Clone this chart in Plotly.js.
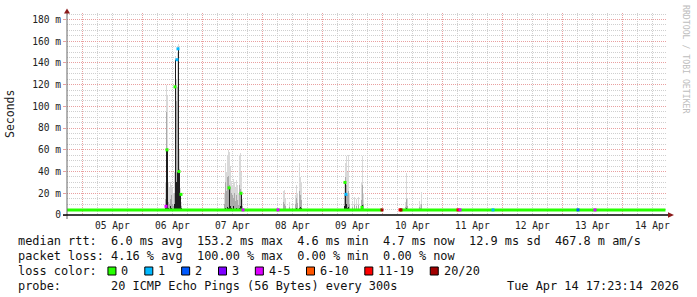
<!DOCTYPE html>
<html><head><meta charset="utf-8">
<script src="https://cdn.plot.ly/plotly-3.0.1.min.js"></script>
<style>html,body{margin:0;padding:0;background:#fff;}#chart{width:697px;height:297px;}</style>
</head><body><div id="chart"></div>
<script>
// ---------- DATA ----------
const smokeTime = [
 "2026-04-06 09:12","2026-04-06 09:36","2026-04-06 10:00","2026-04-06 10:24","2026-04-06 10:48","2026-04-06 11:12","2026-04-06 11:36","2026-04-06 12:00","2026-04-06 12:24","2026-04-06 12:48","2026-04-06 13:12","2026-04-06 13:36","2026-04-06 14:00","2026-04-06 14:24","2026-04-06 14:48","2026-04-06 15:12","2026-04-06 15:36",
 "2026-04-07 08:48","2026-04-07 09:12","2026-04-07 09:36","2026-04-07 10:00","2026-04-07 10:24","2026-04-07 10:48","2026-04-07 11:12","2026-04-07 11:36","2026-04-07 12:00","2026-04-07 12:24","2026-04-07 12:48","2026-04-07 13:12","2026-04-07 13:36","2026-04-07 14:00","2026-04-07 14:24","2026-04-07 14:48","2026-04-07 15:12","2026-04-07 15:36","2026-04-07 16:00",
 "2026-04-08 08:24","2026-04-08 08:48","2026-04-08 09:12","2026-04-08 10:48","2026-04-08 12:00","2026-04-08 13:12","2026-04-08 13:36","2026-04-08 14:00","2026-04-08 14:48","2026-04-08 15:12","2026-04-08 15:36",
 "2026-04-09 08:48","2026-04-09 09:12","2026-04-09 09:36","2026-04-09 10:00","2026-04-09 10:24","2026-04-09 10:48","2026-04-09 12:00","2026-04-09 12:48","2026-04-09 13:36","2026-04-09 14:24","2026-04-09 15:36","2026-04-09 16:00","2026-04-09 16:24",
 "2026-04-10 09:12","2026-04-10 09:36","2026-04-10 10:00","2026-04-10 14:48","2026-04-10 15:12","2026-04-10 15:36"
];
const smokeHigh = [
 30,120,110,30,25,30,28,25,20,40,146,125,150,157,60,25,12,
 20,48,40,55,60,58,45,31,28,33,30,25,32,28,20,55,57,40,15,
 22,23,15,12,10,18,28,20,48,35,30,
 30,48,54,40,55,20,12,17,15,17,30,54,20,
 12,39,15,13,10,21
];
const smokeMid = [
 15,95,62,12,10,15,18,10,8,20,144,105,118,155,42,20,8,
 10,30,22,35,36,28,26,20,18,16,20,13,18,14,9,28,24,20,8,
 12,10,8,7,6,10,16,11,22,18,14,
 18,35,28,18,22,10,7,9,8,9,14,28,10,
 7,15,8,7,6,10
];
const smokeDark = [
 6,60,60,6,5,8,6,5,5,10,143,30,40,154,40,19,6,
 5,6,5,7,6,25,8,6,5,8,5,5,6,5,5,6,8,20,5,
 5,5,5,5,5,5,6,5,6,7,6,
 8,30,10,6,7,5,5,5,5,5,6,9,5,
 5,6,5,5,5,5
];
const smokeFloor = 4.3;

const medianTime = ["2026-04-04 18:00","2026-04-06 12:00","2026-04-08 12:00","2026-04-10 00:00","2026-04-10 03:00","2026-04-10 07:12","2026-04-12 12:00","2026-04-14 17:23"];
const medianRtt  = [4.7,4.7,4.7,4.7,null,4.7,4.7,4.7];

const lossTime = ["2026-04-06 09:36","2026-04-06 10:00","2026-04-06 13:12","2026-04-06 14:00","2026-04-06 14:24","2026-04-06 14:48","2026-04-06 15:36",
 "2026-04-07 10:48","2026-04-07 15:36","2026-04-07 16:24","2026-04-08 06:24","2026-04-09 09:12","2026-04-09 09:36","2026-04-09 16:00",
 "2026-04-10 00:00","2026-04-10 07:12","2026-04-10 07:36","2026-04-11 06:24","2026-04-11 07:12","2026-04-11 20:24","2026-04-13 06:24","2026-04-13 13:12"];
const lossRtt = [8,60,118,143,153,40,19, 25,20,4.7,4.7,30,19,7, 4.7,4.7,4.7,4.7,4.7,4.7,4.7,4.7];
const lossClass = [4,0,0,1,1,0,0, 0,0,4,4,0,1,0, 7,6,7,6,4,1,2,4];

const lossLabels = ["0","1","2","3","4-5","6-10","11-19","20/20"];
const lossColors = ["#26ff00","#00b8ff","#0059ff","#7e00ff","#dd00ff","#ff5500","#ff0000","#a10000"];

const dayTicks  = ["2026-04-05","2026-04-06","2026-04-07","2026-04-08","2026-04-09","2026-04-10","2026-04-11","2026-04-12","2026-04-13","2026-04-14"];
const dayLabels = ["05 Apr","06 Apr","07 Apr","08 Apr","09 Apr","10 Apr","11 Apr","12 Apr","13 Apr","14 Apr"];
const yTicks  = [0,20,40,60,80,100,120,140,160,180];
const yLabels = ["0","20 m","40 m","60 m","80 m","100 m","120 m","140 m","160 m","180 m"];

const lineRtt  = "median rtt:  6.0 ms avg  153.2 ms max  4.6 ms min  4.7 ms now  12.9 ms sd  467.8 m am/s";
const lineLoss = "packet loss: 4.16 % avg  100.00 % max  0.00 % min  0.00 % now";
const lineLossHead = "loss color:";
const lineProbe = "probe:       20 ICMP Echo Pings (56 Bytes) every 300s";
const stampText = "Tue Apr 14 17:23:14 2026";

// ---------- LAYOUT HELPERS ----------
const W=697,H=297,L=67,R=667,T=13,B=215;
const px = x => (x-L)/(R-L);
const py = y => (B-y)/(B-T);
const nb = s => s.replace(/ /g,"\u00A0");
const MONO = "DejaVu Sans Mono";
const CW = 7.15;

const barW = 24*60*1000;
const traces = [];
const shades = [[smokeHigh,"#d9d9d9"],[smokeMid,"#ababab"],[smokeDark,"#1e1e1e"]];
shades.forEach(([arr,col])=>{
  traces.push({type:"bar",x:smokeTime,y:arr.map(v=>v-smokeFloor),base:smokeFloor,width:barW,
    marker:{color:col,line:{width:0}},hoverinfo:"skip",showlegend:false});
});
traces.push({type:"scatter",mode:"lines",x:medianTime,y:medianRtt,connectgaps:false,
  line:{color:lossColors[0],width:3},hoverinfo:"skip",showlegend:false});
traces.push({type:"scatter",mode:"markers",x:lossTime,y:lossRtt,
  marker:{symbol:"square",size:3,color:lossClass.map(i=>lossColors[i]),line:{width:0}},hoverinfo:"skip",showlegend:false});

const annotations = [];
dayTicks.forEach((d,i)=>annotations.push({x:d+" 12:00",xref:"x",y:py(225),yref:"paper",text:dayLabels[i],
  showarrow:false,xanchor:"center",yanchor:"middle",font:{family:MONO,size:9.6,color:"#222"}}));
annotations.push({x:px(10),y:py(114),xref:"paper",yref:"paper",text:"Seconds",textangle:-90,showarrow:false,
  xanchor:"center",yanchor:"middle",font:{family:MONO,size:11.5,color:"#222"}});
annotations.push({x:px(686),y:py(59),xref:"paper",yref:"paper",text:nb("RRDTOOL / TOBI OETIKER"),textangle:90,showarrow:false,
  xanchor:"center",yanchor:"middle",font:{family:MONO,size:8.2,color:"#bdbdbd"}});
const legY = [241,255.5,270.5,285.5];
[lineRtt,lineLoss,lineLossHead,lineProbe].forEach((s,i)=>annotations.push({x:px(16),y:py(legY[i]),xref:"paper",yref:"paper",
  text:nb(s),showarrow:false,xanchor:"left",yanchor:"middle",font:{family:MONO,size:11.9,color:"#111"}}));
annotations.push({x:px(681),y:py(legY[3]),xref:"paper",yref:"paper",text:nb(stampText),showarrow:false,
  xanchor:"right",yanchor:"middle",font:{family:MONO,size:11.9,color:"#111"}});

const shapes = [];
// legend colour boxes
let bx = 16 + 13*CW - 1;
lossLabels.forEach((lab,i)=>{
  shapes.push({type:"rect",xref:"paper",yref:"paper",x0:px(bx),x1:px(bx+8),y0:py(275),y1:py(267),
    fillcolor:lossColors[i],line:{color:"#000",width:1}});
  annotations.push({x:px(bx+11.3),y:py(legY[2]),xref:"paper",yref:"paper",text:nb(lab),showarrow:false,
    xanchor:"left",yanchor:"middle",font:{family:MONO,size:11.9,color:"#111"}});
  bx += 29.7 + lab.length*CW;
});
// axes and arrows
shapes.push({type:"line",xref:"paper",yref:"paper",x0:px(L),x1:px(L),y0:py(219),y1:py(11),line:{color:"#666",width:1}});
shapes.push({type:"line",xref:"paper",yref:"paper",x0:px(63),x1:px(669),y0:py(B),y1:py(B),line:{color:"#000",width:1.3}});
shapes.push({type:"path",xref:"paper",yref:"paper",path:`M ${px(64)} ${py(13.5)} L ${px(70)} ${py(13.5)} L ${px(67)} ${py(8.5)} Z`,fillcolor:"#8b1a1a",line:{width:0}});
shapes.push({type:"path",xref:"paper",yref:"paper",path:`M ${px(668)} ${py(212.3)} L ${px(668)} ${py(217.7)} L ${px(674)} ${py(215)} Z`,fillcolor:"#8b1a1a",line:{width:0}});

const layout = {
  width:W,height:H,margin:{l:L,r:W-R,t:T,b:H-B},
  paper_bgcolor:"#fff",plot_bgcolor:"#fff",barmode:"overlay",bargap:0,showlegend:false,
  xaxis:{type:"date",range:["2026-04-04 18:00","2026-04-14 18:00"],tickmode:"array",tickvals:dayTicks,
    showticklabels:false,ticks:"",showgrid:true,gridcolor:"#e9a0a0",gridwidth:1,griddash:"1px,1px",zeroline:false,showline:false,
    minor:{dtick:6*3600*1000,tick0:"2026-04-05",showgrid:true,gridcolor:"#cfcfcf",gridwidth:1,griddash:"1px,1px"},fixedrange:true},
  yaxis:{range:[0,186],tickmode:"array",tickvals:yTicks,ticktext:yLabels,ticks:"outside",ticklen:3,tickcolor:"#e9a0a0",
    showgrid:true,gridcolor:"#e9a0a0",gridwidth:1,griddash:"1px,1px",zeroline:false,showline:false,
    tickfont:{family:MONO,size:9.6,color:"#222"},
    minor:{dtick:5,tick0:0,showgrid:true,gridcolor:"#cfcfcf",gridwidth:1,griddash:"1px,1px"},fixedrange:true},
  annotations:annotations,shapes:shapes
};
Plotly.newPlot("chart",traces,layout,{staticPlot:true,displayModeBar:false});
</script></body></html>
